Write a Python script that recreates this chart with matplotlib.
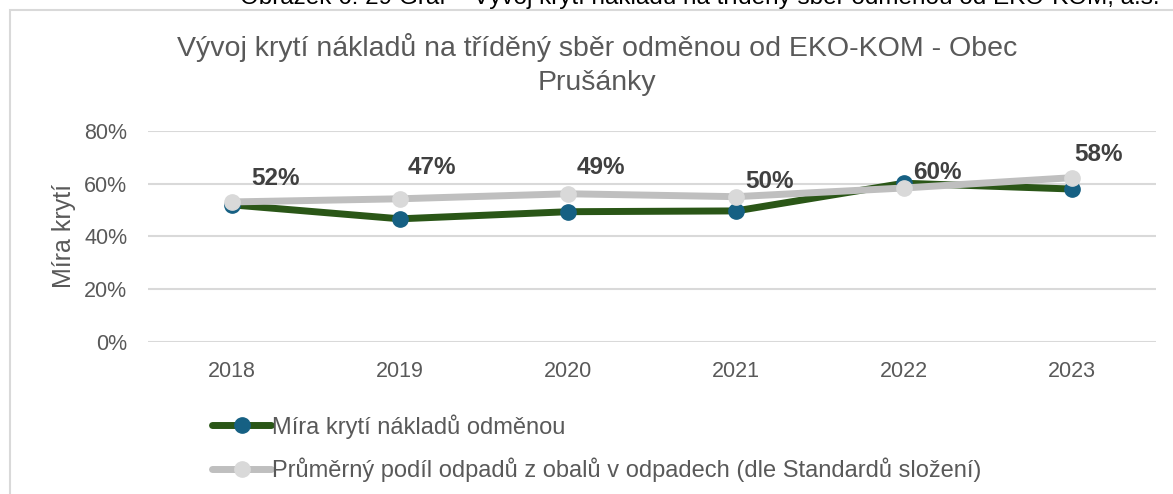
import matplotlib
matplotlib.use("Agg")
import matplotlib.pyplot as plt
from matplotlib.patches import Rectangle
from matplotlib.ticker import PercentFormatter

plt.rcParams["font.family"] = ["Liberation Sans", "DejaVu Sans"]

years = ["2018", "2019", "2020", "2021", "2022", "2023"]
coverage = [0.52, 0.467, 0.494, 0.497, 0.602, 0.58]
packaging_share = [0.531, 0.543, 0.562, 0.551, 0.584, 0.623]
coverage_labels = ["52%", "47%", "49%", "50%", "60%", "58%"]

# where each data label sits relative to its point (points)
label_offsets = [(31, 19), (23, 37), (24, 32), (24, 21), (24, 8), (19, 25)]

TEXT = "#595959"

fig = plt.figure(figsize=(11.73, 4.94), dpi=100)

# chart frame, partly cut off like in the source document
fig.patches.append(Rectangle((10 / 1173, -0.1), 1.2, 1.1 - 10 / 494,
                             transform=fig.transFigure, fill=False,
                             edgecolor="#d9d9d9", linewidth=1.5))
fig.text(240 / 1173, 1 - 4 / 494,
         "Obrázek 6: 29 Graf – Vývoj krytí nákladů na tříděný sběr odměnou od EKO-KOM, a.s.",
         fontsize=17.5, color="black", va="baseline", ha="left")

fig.text(597 / 1173, 1 - 48 / 494,
         "Vývoj krytí nákladů na tříděný sběr odměnou od EKO-KOM - Obec",
         fontsize=20.5, color=TEXT, ha="center", va="center")
fig.text(597 / 1173, 1 - 83 / 494, "Prušánky",
         fontsize=20.5, color=TEXT, ha="center", va="center")

ax = fig.add_axes([148 / 1173, 1 - 342 / 494, (1156 - 148) / 1173, (342 - 131) / 494])
x = range(len(years))

ax.plot(x, coverage, color="#2a5617", linewidth=5, marker="o", markersize=11,
        markerfacecolor="#166083", markeredgecolor="#166083",
        solid_capstyle="round", label="Míra krytí nákladů odměnou", zorder=3)
ax.plot(x, packaging_share, color="#bfbfbf", linewidth=5, marker="o", markersize=11,
        markerfacecolor="#d9d9d9", markeredgecolor="#d9d9d9",
        solid_capstyle="round",
        label="Průměrný podíl odpadů z obalů v odpadech (dle Standardů složení)", zorder=4)

for xi, yi, lab, off in zip(x, coverage, coverage_labels, label_offsets):
    ax.annotate(lab, (xi, yi), xytext=off, textcoords="offset points",
                ha="center", va="center", fontsize=17.5, fontweight="bold",
                color="#404040", zorder=5)

ax.set_xlim(-0.5, len(years) - 0.5)
ax.set_ylim(0, 0.8)
ax.set_yticks([0, 0.2, 0.4, 0.6, 0.8])
ax.yaxis.set_major_formatter(PercentFormatter(1.0, decimals=0))
ax.set_xticks(list(x))
ax.set_xticklabels(years)
ax.tick_params(axis="both", length=0, labelsize=15.5, labelcolor=TEXT)
ax.tick_params(axis="x", pad=14)
ax.tick_params(axis="y", pad=15)
ax.grid(axis="y", color="#d9d9d9", linewidth=1.5)
ax.set_axisbelow(True)
for s in ax.spines.values():
    s.set_visible(False)
ax.set_ylabel("Míra krytí", fontsize=18, color=TEXT, labelpad=6)

ax.legend(loc="upper left", bbox_to_anchor=(212 / 1173, 1 - 414 / 494),
          bbox_transform=fig.transFigure, frameon=False, fontsize=17,
          labelcolor=TEXT, handlelength=2.5, handletextpad=0.05,
          labelspacing=0.8, borderpad=0, borderaxespad=0)

fig.savefig("out.png", dpi=100)
